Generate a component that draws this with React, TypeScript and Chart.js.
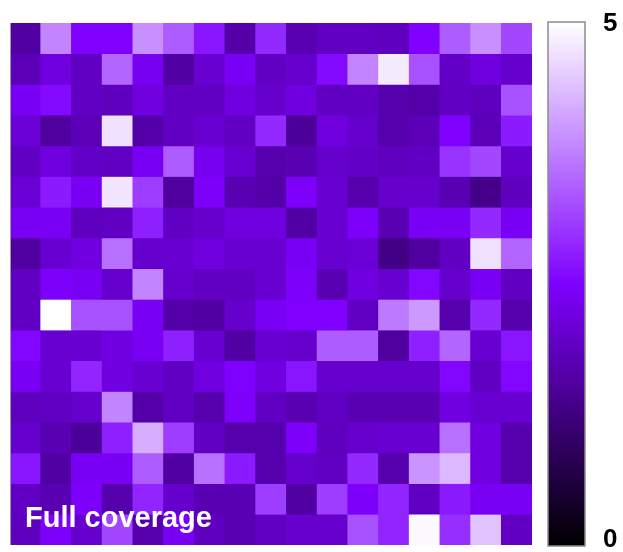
import React, { useEffect, useRef } from "react";
import { Chart, registerables } from "chart.js";

Chart.register(...registerables);

const COLS = ["1", "2", "3", "4", "5", "6", "7", "8", "9", "10", "11", "12", "13", "14", "15", "16", "17"];
const ROWS = ["1", "2", "3", "4", "5", "6", "7", "8", "9", "10", "11", "12", "13", "14", "15", "16", "17"];

const row01 = [1.6, 3.8, 2.5, 2.5, 3.9, 3.4, 2.7, 1.65, 2.9, 1.75, 1.9, 1.9, 1.85, 2.5, 3.4, 3.9, 3.2];
const row02 = [1.8, 2.2, 1.9, 3.5, 2.35, 1.6, 2.05, 2.4, 1.9, 2.0, 2.6, 3.8, 4.8, 3.3, 1.95, 2.2, 2.0];
const row03 = [2.4, 2.6, 1.9, 1.85, 2.2, 1.9, 1.9, 2.2, 2.0, 2.2, 1.9, 1.9, 1.7, 1.65, 1.9, 1.85, 3.3];
const row04 = [2.1, 1.55, 1.8, 4.7, 1.65, 1.9, 2.05, 1.9, 2.9, 1.5, 2.2, 2.0, 1.7, 1.8, 2.5, 1.8, 2.75];
const row05 = [1.9, 2.2, 1.95, 1.9, 2.4, 3.4, 2.35, 2.05, 1.7, 1.75, 2.0, 1.95, 1.85, 1.9, 3.0, 3.2, 2.0];
const row06 = [2.1, 2.75, 2.4, 4.75, 3.1, 1.55, 2.45, 1.75, 1.65, 2.45, 2.05, 1.7, 2.0, 2.0, 1.75, 1.35, 1.85];
const row07 = [2.4, 2.4, 1.85, 1.9, 2.8, 1.9, 2.0, 2.2, 2.2, 1.6, 2.05, 2.45, 1.75, 2.4, 2.4, 2.9, 2.4];
const row08 = [1.55, 2.05, 2.2, 3.6, 2.0, 2.05, 2.2, 2.05, 2.05, 2.4, 2.05, 2.1, 1.3, 1.55, 1.9, 4.7, 3.5];
const row09 = [1.9, 2.45, 2.4, 2.0, 3.8, 2.0, 1.9, 1.9, 2.05, 2.45, 1.75, 2.2, 2.05, 2.55, 2.0, 2.4, 1.9];
const row10 = [1.9, 5.0, 3.3, 3.3, 2.4, 1.65, 1.6, 2.0, 2.4, 2.5, 2.5, 1.9, 3.7, 4.0, 1.7, 2.9, 1.7];
const row11 = [2.55, 2.05, 2.05, 2.2, 2.4, 2.8, 2.05, 1.6, 2.05, 2.0, 3.4, 3.4, 1.55, 2.8, 3.5, 2.05, 2.7];
const row12 = [2.4, 2.05, 2.85, 2.2, 2.05, 1.9, 2.2, 2.5, 2.2, 2.7, 2.0, 2.0, 2.0, 2.0, 2.55, 1.9, 2.55];
const row13 = [1.85, 1.9, 2.0, 3.8, 1.65, 1.9, 1.7, 2.45, 1.9, 1.75, 1.9, 1.75, 1.75, 1.75, 2.2, 2.05, 2.05];
const row14 = [2.0, 1.75, 1.5, 2.8, 4.2, 3.1, 1.9, 1.7, 1.7, 2.45, 1.85, 2.0, 2.05, 2.05, 3.6, 2.2, 1.7];
const row15 = [2.7, 1.6, 2.4, 2.4, 3.4, 1.6, 3.6, 2.75, 1.7, 2.0, 1.9, 2.9, 1.7, 3.95, 4.3, 2.2, 1.7];
const row16 = [1.9, 1.75, 2.45, 1.7, 2.85, 2.0, 1.75, 1.75, 3.1, 1.6, 3.1, 2.45, 2.85, 1.9, 2.75, 2.4, 2.4];
const row17 = [1.85, 2.45, 2.0, 3.2, 1.7, 2.4, 1.85, 1.75, 1.9, 2.0, 2.0, 3.3, 2.85, 4.95, 2.95, 4.4, 1.9];

const GRID = [row01, row02, row03, row04, row05, row06, row07, row08, row09, row10, row11, row12, row13, row14, row15, row16, row17];

const VMIN = 0;
const VMAX = 5;
const TICK_LABELS = ["0", "5"];
const TITLE = "Full coverage";

function colorFor(v: number): string {
  let t = (v - VMIN) / (VMAX - VMIN);
  t = Math.max(0, Math.min(1, t));
  let r: number, g: number, b: number;
  if (t <= 0.5) {
    const k = t / 0.5;
    r = 127 * k;
    g = 0;
    b = 255 * k;
  } else {
    const k = (t - 0.5) / 0.5;
    r = 127 + 128 * k;
    g = 255 * k;
    b = 255;
  }
  return `rgb(${Math.round(r)},${Math.round(g)},${Math.round(b)})`;
}

const decorPlugin = {
  id: "decor",
  beforeDatasetsDraw(chart: any) {
    const { ctx, chartArea } = chart;
    ctx.save();
    ctx.fillStyle = "#6400c8";
    ctx.fillRect(chartArea.left, chartArea.top, chartArea.right - chartArea.left, chartArea.bottom - chartArea.top);
    ctx.restore();
  },
  afterDraw(chart: any) {
    const { ctx, chartArea } = chart;
    ctx.save();
    ctx.strokeStyle = "#9a9a9a";
    ctx.lineWidth = 1;
    ctx.beginPath();
    ctx.moveTo(chartArea.left + 0.5, chartArea.top);
    ctx.lineTo(chartArea.left + 0.5, chartArea.bottom);
    ctx.stroke();

    ctx.fillStyle = "#ffffff";
    ctx.font = "bold 29px 'Liberation Sans', Arial, sans-serif";
    ctx.textBaseline = "alphabetic";
    ctx.textAlign = "left";
    ctx.fillText(TITLE, 25, 527);

    const cbL = 548;
    const cbR = 585;
    const cbT = chartArea.top - 1;
    const cbB = chartArea.bottom + 1;
    const grad = ctx.createLinearGradient(0, cbB, 0, cbT);
    grad.addColorStop(0, colorFor(VMIN));
    grad.addColorStop(0.5, colorFor((VMIN + VMAX) / 2));
    grad.addColorStop(1, colorFor(VMAX));
    ctx.fillStyle = grad;
    ctx.fillRect(cbL, cbT, cbR - cbL, cbB - cbT);
    ctx.strokeStyle = "#8c8c8c";
    ctx.lineWidth = 1.5;
    ctx.strokeRect(cbL, cbT, cbR - cbL, cbB - cbT);

    ctx.fillStyle = "#000000";
    ctx.font = "bold 26px 'Liberation Sans', Arial, sans-serif";
    ctx.textBaseline = "middle";
    ctx.textAlign = "left";
    ctx.fillText(TICK_LABELS[1], 603, 24);
    ctx.fillText(TICK_LABELS[0], 603, 540);
    ctx.restore();
  },
};

export default function App() {
  const ref = useRef<HTMLCanvasElement | null>(null);

  useEffect(() => {
    if (!ref.current) return;
    const datasets = GRID.map((row, i) => ({
      label: ROWS[i],
      data: row.map(() => 1),
      backgroundColor: row.map((v) => colorFor(v)),
      borderWidth: 0,
      categoryPercentage: 1.0,
      barPercentage: 1.0,
      stack: "grid",
    }));
    const chart = new Chart(ref.current, {
      type: "bar",
      data: { labels: COLS, datasets },
      options: {
        animation: false,
        responsive: false,
        maintainAspectRatio: false,
        devicePixelRatio: 1,
        layout: { padding: { left: 10, top: 23, right: 91, bottom: 7 } },
        plugins: { legend: { display: false }, tooltip: { enabled: false }, title: { display: false } },
        scales: {
          x: { display: false, stacked: true, grid: { display: false } },
          y: { display: false, stacked: true, reverse: true, min: 0, max: ROWS.length, grid: { display: false } },
        },
      },
      plugins: [decorPlugin],
    });
    return () => chart.destroy();
  }, []);

  return (
    <div style={{ position: "absolute", left: 0, top: 0, width: 623, height: 552, background: "#ffffff" }}>
      <canvas ref={ref} width={623} height={552} style={{ width: 623, height: 552, display: "block" }} />
    </div>
  );
}
